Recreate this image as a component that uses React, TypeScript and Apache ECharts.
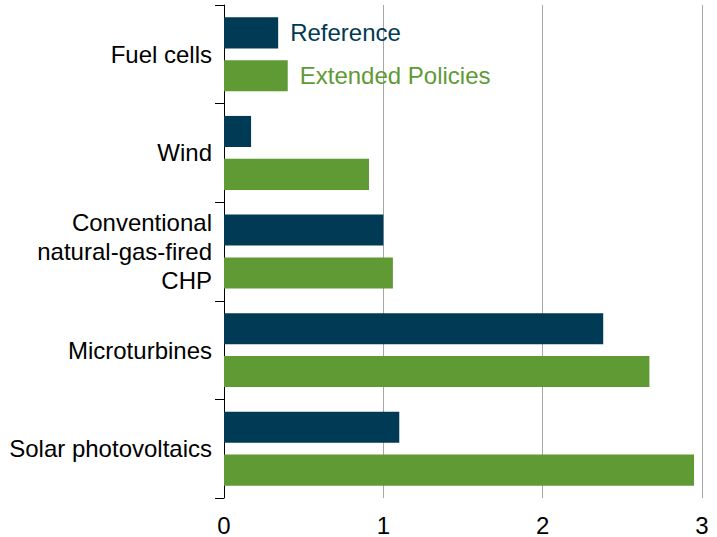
import React, { useEffect, useRef } from "react";
import * as echarts from "echarts";

const categories = [
  "Fuel cells",
  "Wind",
  "Conventional\nnatural-gas-fired\nCHP",
  "Microturbines",
  "Solar photovoltaics",
];
const referenceValues = [0.34, 0.17, 1.0, 2.38, 1.1];
const extendedValues = [0.4, 0.91, 1.06, 2.67, 2.95];
const xTicks = [0, 1, 2, 3];

const NAVY = "#003a55";
const GREEN = "#5f9a35";
const FONT = "'Liberation Sans', Arial, sans-serif";

export default function App() {
  const ref = useRef<HTMLDivElement>(null);
  useEffect(() => {
    if (!ref.current) return;
    const chart = echarts.init(ref.current, undefined, { renderer: "svg" });
    const mkData = (vals: number[], name: string, color: string) =>
      vals.map((v, i) =>
        i === 0
          ? {
              value: v,
              label: {
                show: true,
                position: "right",
                distance: 12,
                formatter: name,
                color,
                fontSize: 24,
                fontFamily: FONT,
              },
            }
          : v
      );
    chart.setOption({
      animation: false,
      grid: { left: 224, right: 15, top: 5, bottom: 39, containLabel: false },
      xAxis: {
        type: "value",
        min: xTicks[0],
        max: xTicks[xTicks.length - 1],
        interval: 1,
        axisLine: { show: false },
        axisTick: { show: false },
        splitLine: {
          show: true,
          lineStyle: { color: "#a6a6a6", width: 1 },
          showMinLine: false,
        },
        axisLabel: {
          fontSize: 24,
          fontFamily: FONT,
          color: "#000",
          margin: 15,
        },
      },
      yAxis: {
        type: "category",
        inverse: true,
        data: categories,
        axisLine: { show: true, lineStyle: { color: "#000", width: 1 } },
        axisTick: { show: true, length: 9, lineStyle: { color: "#000" } },
        axisLabel: {
          fontSize: 24,
          fontFamily: FONT,
          color: "#000",
          margin: 12,
          lineHeight: 29,
          align: "right",
        },
      },
      series: [
        {
          name: "Reference",
          type: "bar",
          data: mkData(referenceValues, "Reference", NAVY),
          itemStyle: { color: NAVY },
          barGap: "38%",
          barCategoryGap: "25%",
        },
        {
          name: "Extended Policies",
          type: "bar",
          data: mkData(extendedValues, "Extended Policies", GREEN),
          itemStyle: { color: GREEN },
          barGap: "38%",
          barCategoryGap: "25%",
        },
      ],
    });
    return () => chart.dispose();
  }, []);
  return (
    <div
      ref={ref}
      style={{ width: 717, height: 537, position: "absolute", left: 0, top: 0 }}
    />
  );
}
